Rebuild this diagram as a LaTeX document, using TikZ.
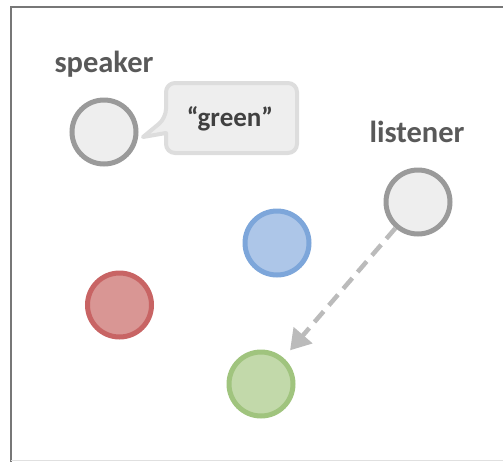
\documentclass[tikz,border=0pt]{standalone}
\usepackage{fontspec}
\setmainfont{Carlito}
\usetikzlibrary{arrows.meta}
\definecolor{framegray}{HTML}{777777}
\definecolor{labelgray}{HTML}{595959}
\definecolor{textdark}{HTML}{404040}
\definecolor{agentfill}{HTML}{EEEEEE}
\definecolor{agentline}{HTML}{9A9A9A}
\definecolor{bubblefill}{HTML}{EEEEEE}
\definecolor{bubbleline}{HTML}{DDDDDD}
\definecolor{redfill}{HTML}{D99694}
\definecolor{redline}{HTML}{C86464}
\definecolor{bluefill}{HTML}{ADC6E8}
\definecolor{blueline}{HTML}{7DA6DA}
\definecolor{greenfill}{HTML}{C2D9AA}
\definecolor{greenline}{HTML}{A0C47E}
\definecolor{arrowgray}{HTML}{BBBBBB}
\tikzset{
  ball/.style={circle, minimum size=64pt, inner sep=0pt, line width=5pt},
  agent/.style={ball, draw=agentline, fill=agentfill},
  label text/.style={font=\bfseries\fontsize{30.5}{36}\selectfont, text=labelgray, inner sep=0pt},
  bubble/.style={draw=bubbleline, fill=bubblefill, line width=4pt, line join=round},
  look/.style={draw=arrowgray, line width=4.5pt, dash pattern=on 14pt off 8pt, -{Triangle[length=20pt,width=24pt]}}
}
\begin{document}
\begin{tikzpicture}[x=1pt,y=-1pt]
\useasboundingbox (0,0) rectangle (503,461);
\clip (0,0) rectangle (503,461);
% frame
\draw[framegray, line width=2.5pt] (11,520) -- (11,7) -- (520,7);
\draw[black!12, line width=1pt] (11,460.5) -- (520,460.5);
% speech bubble
\draw[bubble] (143,137) -- (166,133) [rounded corners=9pt] -- (166,153) -- (297,153) -- (297,83) -- (166,83) -- (166,118) [sharp corners] -- cycle;
\node[font=\bfseries\fontsize{27}{32}\selectfont, text=textdark, inner sep=0pt] (word) at (230,119) {“green”};
% agents
\node[agent] (speaker) at (104,132) {};
\node[agent] (listener) at (418,202) {};
\node[label text] (speakerlabel) at (104,64) {speaker};
\node[label text] (listenerlabel) at (417,132) {listener};
% objects
\node[ball, draw=blueline, fill=bluefill] (blue) at (277,243) {};
\node[ball, draw=redline, fill=redfill] (red) at (119.5,305) {};
\node[ball, draw=greenline, fill=greenfill] (green) at (261,384) {};
% gaze arrow
\draw[look, shorten >=10pt] (listener) -- (green);
\end{tikzpicture}
\end{document}
